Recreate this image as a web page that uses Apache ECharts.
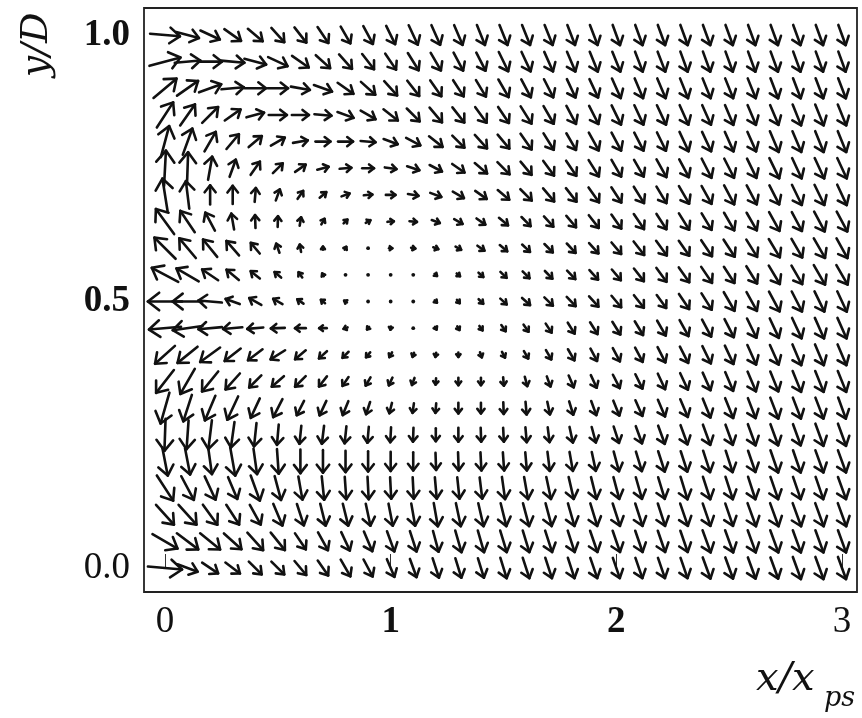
<!DOCTYPE html>
<html><head><meta charset="utf-8">
<script src="https://cdn.jsdelivr.net/npm/echarts@6/dist/echarts.min.js"></script>
<style>html,body{margin:0;padding:0;background:#fff}#c{width:862px;height:718px}</style>
</head><body><div id="c"></div><script>
// grid positions of the vectors
const xValues = [0,0.1,0.2,0.3,0.4,0.5,0.6,0.7,0.8,0.9,1,1.1,1.2,1.3,1.4,1.5,1.6,1.7,1.8,1.9,2,2.1,2.2,2.3,2.4,2.5,2.6,2.7,2.8,2.9,3];
const yValues = [0,0.05,0.1,0.15,0.2,0.25,0.3,0.35,0.4,0.45,0.5,0.55,0.6,0.65,0.7,0.75,0.8,0.85,0.9,0.95,1];
const xTickValues = [0,1,2,3];
const yTickValues = [0,0.5,1];

// direction of each vector (degrees, counter-clockwise from +x), one row per y value
const angle_y000 = [-5,-20,-34,-37,-45,-45,-50,-55,-60,-62,-67,-70,-72,-73,-73,-73,-72,-72,-72,-71,-71,-71,-71,-71,-70,-70,-70,-70,-70,-70,-70];
const angle_y005 = [-30,-37,-39,-42,-48,-51,-56,-61,-65,-67,-70,-72,-75,-74,-74,-73,-73,-72,-72,-71,-71,-71,-71,-71,-70,-70,-70,-70,-70,-70,-70];
const angle_y010 = [-48,-48,-54,-57,-61,-67,-72,-76,-76,-78,-79,-80,-80,-78,-77,-76,-75,-75,-74,-73,-72,-72,-72,-71,-71,-71,-70,-70,-70,-70,-70];
const angle_y015 = [-57,-62,-65,-67,-70,-75,-80,-84,-86,-87,-87,-87,-85,-84,-83,-82,-80,-78,-77,-76,-75,-74,-73,-73,-72,-72,-72,-71,-71,-71,-70];
const angle_y020 = [-79,-79,-82,-80,-82,-86,-90,-90,-90,-90,-90,-90,-88,-88,-87,-86,-85,-83,-80,-78,-75,-73,-72,-72,-72,-72,-71,-71,-71,-70,-70];
const angle_y025 = [-92,-94,-97,-98,-96,-95,-96,-97,-96,-95,-93,-92,-90,-90,-88,-87,-85,-83,-78,-75,-72,-70,-70,-70,-70,-70,-70,-70,-70,-70,-70];
const angle_y030 = [-106,-108,-113,-115,-115,-117,-117,-115,-112,-108,-104,-98,-95,-90,-90,-88,-85,-78,-73,-70,-68,-66,-67,-67,-68,-68,-69,-69,-69,-69,-70];
const angle_y035 = [-128,-120,-129,-132,-135,-139,-135,-128,-124,-120,-115,-110,-95,-90,-90,-85,-75,-70,-67,-65,-63,-64,-65,-65,-66,-67,-67,-68,-68,-68,-68];
const angle_y040 = [-138,-141,-144,-142,-143,-148,-140,-138,-135,-130,-120,-110,-100,-90,-70,-62,-60,-60,-60,-62,-62,-62,-63,-63,-64,-65,-66,-66,-67,-67,-67];
const angle_y045 = [-175,-172,-175,-175,-175,-178,180,180,-160,-130,-100,-90,-60,-60,-55,-55,-55,-57,-58,-58,-58,-59,-60,-61,-62,-63,-64,-65,-65,-66,-66];
const angle_y050 = [180,180,175,160,150,150,145,140,150,150,0,-40,-45,-50,-45,-42,-42,-44,-46,-48,-50,-52,-54,-56,-58,-60,-61,-62,-63,-64,-65];
const angle_y055 = [152,150,146,140,141,140,125,120,110,60,0,-30,-40,-40,-42,-44,-45,-46,-46,-48,-50,-52,-54,-55,-56,-57,-58,-59,-60,-60,-60];
const angle_y060 = [135,130,129,131,130,110,100,90,60,40,0,-10,-20,-30,-35,-40,-43,-45,-47,-48,-50,-52,-54,-55,-56,-57,-58,-59,-60,-60,-61];
const angle_y065 = [126,124,118,100,92,88,80,60,45,30,5,-5,-20,-30,-35,-40,-45,-48,-50,-52,-55,-56,-57,-58,-59,-60,-60,-61,-62,-62,-62];
const angle_y070 = [99,97,90,90,85,70,55,40,20,5,0,-10,-20,-30,-35,-40,-45,-50,-52,-55,-57,-58,-59,-60,-61,-62,-62,-63,-64,-64,-65];
const angle_y075 = [87,88,80,70,55,45,35,15,5,0,-8,-18,-28,-35,-40,-45,-50,-54,-56,-58,-60,-60,-61,-62,-63,-63,-64,-64,-65,-65,-65];
const angle_y080 = [75,70,60,50,40,30,10,0,0,-5,-20,-28,-38,-45,-48,-50,-55,-58,-60,-61,-62,-63,-64,-65,-65,-66,-66,-67,-67,-68,-68];
const angle_y085 = [57,55,45,35,15,0,0,-5,-20,-30,-38,-45,-50,-52,-54,-56,-58,-60,-62,-63,-64,-65,-65,-66,-66,-67,-67,-67,-68,-68,-68];
const angle_y090 = [40,35,20,5,0,0,-10,-20,-35,-42,-48,-52,-55,-57,-59,-60,-62,-63,-65,-65,-66,-67,-67,-68,-68,-68,-68,-69,-69,-69,-69];
const angle_y095 = [15,5,0,-5,-15,-25,-35,-42,-48,-52,-56,-58,-60,-62,-63,-64,-65,-66,-67,-68,-68,-69,-69,-70,-70,-70,-70,-70,-70,-70,-70];
const angle_y100 = [-5,-15,-25,-35,-40,-48,-52,-56,-60,-62,-64,-65,-66,-67,-68,-68,-68,-68,-69,-69,-70,-70,-70,-70,-70,-70,-70,-70,-70,-70,-70];

// magnitude of each vector (relative units), one row per y value
const mag_y000 = [32,20,18,17,17,17,17,17,18,18,18,18,19,19,19,20,20,20,20,20,20,20,20,20,21,21,21,21,22,22,22];
const mag_y005 = [27,25,24,22,22,21,18,19,19,20,20,20,20,21,21,21,21,21,21,21,21,21,21,21,22,22,22,22,22,22,22];
const mag_y010 = [25,25,23,22,21,22,21,21,21,21,21,21,22,22,22,22,22,22,22,22,22,22,22,22,22,22,23,23,23,23,23];
const mag_y015 = [28,25,24,22,25,23,22,22,21,21,20,20,20,20,20,21,21,21,21,21,21,21,21,22,22,22,22,22,22,22,22];
const mag_y020 = [27,25,24,27,24,23,22,21,20,19,18,17,16,17,17,17,17,18,18,18,19,19,20,20,21,21,21,22,22,22,22];
const mag_y025 = [30,27,27,24,22,19,17,17,16,15,14,13,12,13,13,13,14,14,15,15,16,17,18,19,20,20,21,21,21,22,22];
const mag_y030 = [30,26,25,24,20,19,15,15,14,12,10,9,9,10,10,11,12,12,13,14,15,16,17,18,19,20,20,21,21,21,21];
const mag_y035 = [27,27,24,20,16,15,14,12,10,9,8,7,6,7,7,8,9,10,12,13,14,15,16,17,18,19,20,20,21,21,21];
const mag_y040 = [25,24,23,19,17,16,13,10,8,6,5,4,4,4,5,6,8,10,12,13,14,15,16,17,18,19,20,20,21,21,21];
const mag_y045 = [30,28,22,18,15,13,10,7,4,3,3,2,3,4,5,7,8,10,12,13,14,15,16,17,18,19,20,20,21,21,21];
const mag_y050 = [32,28,22,14,13,10,7,5,3,2,1,2,3,4,6,8,10,11,12,13,14,15,15,17,18,20,20,21,21,21,21];
const mag_y055 = [28,24,18,15,11,8,6,3,2,2,2,2,3,4,6,8,9,10,11,12,13,15,16,17,18,18,19,20,20,21,21];
const mag_y060 = [28,24,21,18,13,9,7,3,3,2,3,4,5,6,8,9,10,11,12,13,14,16,17,17,18,19,19,20,20,21,21];
const mag_y065 = [29,24,19,15,12,10,8,6,5,5,6,7,8,9,10,11,12,13,14,15,16,17,17,18,18,19,19,20,20,21,21];
const mag_y070 = [31,26,18,17,13,11,9,8,8,8,9,10,11,12,13,14,15,16,16,17,17,18,18,19,19,20,20,20,21,21,21];
const mag_y075 = [33,30,22,17,15,13,12,11,11,11,11,12,13,14,15,16,16,17,17,18,18,18,19,19,20,20,20,21,21,21,21];
const mag_y080 = [30,26,21,18,16,15,14,14,14,14,14,15,16,16,17,17,18,18,18,19,19,19,19,20,20,20,20,21,21,21,21];
const mag_y085 = [28,24,21,18,17,17,16,16,16,16,17,17,18,18,18,18,19,19,19,19,20,20,20,20,20,20,20,20,21,21,21];
const mag_y090 = [28,24,22,21,20,19,18,18,18,18,18,18,18,18,18,19,19,19,19,19,20,20,20,20,20,20,20,20,20,20,20];
const mag_y095 = [30,24,22,22,21,20,19,18,18,18,18,19,19,19,19,20,20,20,20,20,20,20,20,20,20,20,20,20,20,20,20];
const mag_y100 = [28,22,20,19,18,18,18,18,18,19,19,20,20,20,20,20,20,20,20,20,20,20,20,20,20,20,20,20,20,20,20];

const angleRows = [angle_y000,angle_y005,angle_y010,angle_y015,angle_y020,angle_y025,angle_y030,angle_y035,angle_y040,angle_y045,angle_y050,angle_y055,angle_y060,angle_y065,angle_y070,angle_y075,angle_y080,angle_y085,angle_y090,angle_y095,angle_y100];
const magRows = [mag_y000,mag_y005,mag_y010,mag_y015,mag_y020,mag_y025,mag_y030,mag_y035,mag_y040,mag_y045,mag_y050,mag_y055,mag_y060,mag_y065,mag_y070,mag_y075,mag_y080,mag_y085,mag_y090,mag_y095,mag_y100];

const data = [];
yValues.forEach((y, j) => {
  xValues.forEach((x, i) => {
    data.push([x, y, angleRows[j][i], magRows[j][i]]);
  });
});

const PX_PER_MAG = 1.07;
const INK = '#111';

function renderItem(params, api) {
  const p = api.coord([api.value(0), api.value(1)]);
  const a = api.value(2) * Math.PI / 180;
  const L = api.value(3) * PX_PER_MAG;
  if (L < 2.8) {
    return {type: 'circle', shape: {cx: p[0], cy: p[1], r: 1.9}, style: {fill: INK}};
  }
  const ux = Math.cos(a), uy = -Math.sin(a);
  const tx = p[0] - ux * L / 2, ty = p[1] - uy * L / 2;
  const hx = p[0] + ux * L / 2, hy = p[1] + uy * L / 2;
  const h = Math.max(3.2, 0.36 * L + 2);
  const th = 38 * Math.PI / 180;
  const bx = -ux, by = -uy;
  const b1 = [hx + h * (bx * Math.cos(th) - by * Math.sin(th)), hy + h * (bx * Math.sin(th) + by * Math.cos(th))];
  const b2 = [hx + h * (bx * Math.cos(-th) - by * Math.sin(-th)), hy + h * (bx * Math.sin(-th) + by * Math.cos(-th))];
  const st = {stroke: INK, lineWidth: 2.6, fill: null, lineCap: 'round', lineJoin: 'round'};
  return {
    type: 'group',
    children: [
      {type: 'line', shape: {x1: tx, y1: ty, x2: hx, y2: hy}, style: st},
      {type: 'polyline', shape: {points: [b1, [hx, hy], b2]}, style: st}
    ]
  };
}

const chart = echarts.init(document.getElementById('c'), null, {renderer: 'canvas'});
const tickRich = {
  n: {fontFamily: '"Liberation Serif", serif', fontSize: 37, color: '#111'},
  b: {fontFamily: '"Liberation Serif", serif', fontSize: 37, fontWeight: 'bold', color: '#111'}
};
chart.setOption({
  animation: false,
  backgroundColor: '#fff',
  grid: {left: 165, right: 20, top: 35, bottom: 150, show: false},
  xAxis: {
    type: 'value', min: 0, max: 3, interval: 1, offset: 24,
    axisLine: {show: false},
    axisTick: {show: true, inside: true, length: 14, lineStyle: {color: '#333', width: 1}},
    splitLine: {show: false},
    axisLabel: {margin: 12, rich: tickRich,
      formatter: v => xTickValues.includes(v) ? ((v === 1 || v === 2) ? '{b|' + v + '}' : '{n|' + v + '}') : ''}
  },
  yAxis: {
    type: 'value', min: 0, max: 1, interval: 0.5, offset: 21,
    axisLine: {show: false},
    axisTick: {show: true, inside: true, length: 10, lineStyle: {color: '#333', width: 1}},
    splitLine: {show: false},
    axisLabel: {margin: 14, rich: tickRich,
      formatter: v => yTickValues.includes(v) ? (v > 0 ? '{b|' + v.toFixed(1) + '}' : '{n|' + v.toFixed(1) + '}') : ''}
  },
  graphic: [
    {type: 'rect', shape: {x: 144, y: 8, width: 713, height: 584}, style: {fill: null, stroke: '#222', lineWidth: 1.8}, z: 10},
    {type: 'text', x: 37, y: 45, rotation: Math.PI / 2, style: {text: 'y/D', font: 'italic 38px "DejaVu Serif", serif', fill: '#111', textAlign: 'center', textVerticalAlign: 'middle'}},
    {type: 'text', x: 756, y: 680, style: {text: 'x/x', font: 'italic 40px "DejaVu Serif", serif', fill: '#111', textAlign: 'left', textVerticalAlign: 'middle'}},
    {type: 'text', x: 824, y: 699, style: {text: 'ps', font: 'italic 27px "DejaVu Serif", serif', fill: '#111', textAlign: 'left', textVerticalAlign: 'middle'}}
  ],
  series: [{
    type: 'custom',
    renderItem: renderItem,
    clip: false,
    encode: {x: 0, y: 1},
    data: data
  }]
});
</script></body></html>
